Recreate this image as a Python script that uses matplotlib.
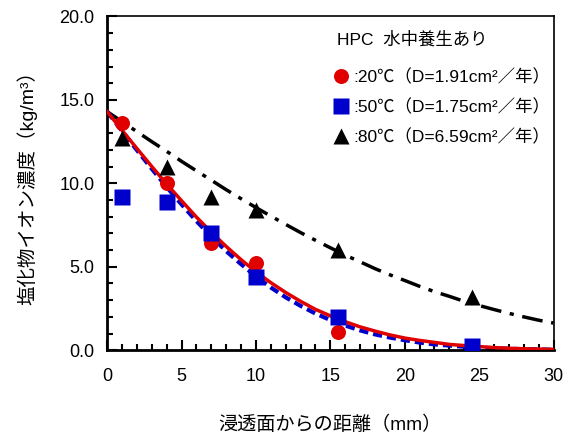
import numpy as np
import matplotlib.pyplot as plt
from matplotlib.ticker import MultipleLocator

plt.rcParams['font.family'] = ['Liberation Sans', 'Noto Sans CJK JP', 'DejaVu Sans']

# measured points (depth [mm], chloride [kg/m3])
x_meas = [1.0, 4.0, 7.0, 10.0, 15.5, 24.5]
c20 = [13.6, 10.0, 6.4, 5.2, 1.1, 0.25]
c50 = [9.2, 8.9, 7.0, 4.4, 2.0, 0.25]
c80 = [12.7, 11.0, 9.2, 8.4, 6.0, 3.2]

# fitted curves
x_fit = list(range(0, 31))
fit20 = [14.30, 13.18, 12.09, 11.01, 9.96, 8.96, 7.98, 7.07, 6.22, 5.43,
         4.70, 4.05, 3.46, 2.93, 2.45, 2.06, 1.71, 1.40, 1.15, 0.92,
         0.73, 0.59, 0.47, 0.35, 0.28, 0.22, 0.16, 0.12, 0.09, 0.07, 0.05]
fit50 = [14.30, 13.14, 11.99, 10.87, 9.78, 8.74, 7.74, 6.81, 5.94, 5.16,
         4.42, 3.76, 3.17, 2.66, 2.20, 1.81, 1.48, 1.19, 0.95, 0.76,
         0.60, 0.46, 0.35, 0.28, 0.21, 0.16, 0.12, 0.09, 0.06, 0.05, 0.03]
fit80 = [14.30, 13.70, 13.10, 12.50, 11.92, 11.32, 10.75, 10.19, 9.62, 9.08,
         8.55, 8.04, 7.54, 7.05, 6.59, 6.14, 5.70, 5.30, 4.89, 4.52,
         4.18, 3.83, 3.51, 3.23, 2.93, 2.68, 2.44, 2.21, 2.00, 1.80, 1.63]

labels = [':20℃（D=1.91cm²／年）', ':50℃（D=1.75cm²／年）', ':80℃（D=6.59cm²／年）']

fig = plt.figure(figsize=(5.73, 4.34), dpi=100)
ax = fig.add_axes([0.187, 0.193, 0.779, 0.769])

ax.plot(x_fit, fit80, color='black', lw=2.5, dashes=(6, 2.5, 1.2, 2.5), zorder=2)
ax.plot(x_fit, fit50, color='#0000cc', lw=3, dashes=(2.2, 1.2), zorder=2)
ax.plot(x_fit, fit20, color='#e00000', lw=2.5, zorder=3)

ax.plot(x_meas, c20, 'o', color='#e00000', ms=10.8, mec='none', label=labels[0], zorder=4)
ax.plot(x_meas, c50, 's', color='#0000cc', ms=11.5, mec='none', label=labels[1], zorder=5)
ax.plot(x_meas, c80, '^', color='black', ms=11.3, mec='none', label=labels[2], zorder=5)

ax.set_xlim(0, 30)
ax.set_ylim(0, 20)
ax.xaxis.set_major_locator(MultipleLocator(5))
ax.xaxis.set_minor_locator(MultipleLocator(1))
ax.yaxis.set_major_locator(MultipleLocator(5))
ax.yaxis.set_minor_locator(MultipleLocator(1))
ax.yaxis.set_major_formatter(lambda v, p: f'{v:.1f}')
ax.tick_params(which='both', direction='in', top=False, right=False,
               labelsize=13, width=1.5)
ax.tick_params(which='major', length=7)
ax.tick_params(which='minor', length=4)
ax.tick_params(axis='x', pad=13)
ax.tick_params(axis='y', pad=9)
for s in ['left', 'bottom']:
    ax.spines[s].set_linewidth(2)
for s in ['top', 'right']:
    ax.spines[s].set_linewidth(1.2)

ax.set_xlabel('浸透面からの距離（mm）', fontsize=13.8, labelpad=22)
ax.set_ylabel('塩化物イオン濃度（kg/m³）', fontsize=14, labelpad=16)

ax.text(0.515, 0.93, 'HPC  水中養生あり', transform=ax.transAxes,
        fontsize=12.5, ha='left', va='center')
leg = ax.legend(loc='upper left', bbox_to_anchor=(0.493, 0.865), frameon=False,
                fontsize=12.5, handlelength=0.8, handletextpad=0.3,
                labelspacing=0.78, borderaxespad=0)

fig.savefig('out.png', dpi=100)
